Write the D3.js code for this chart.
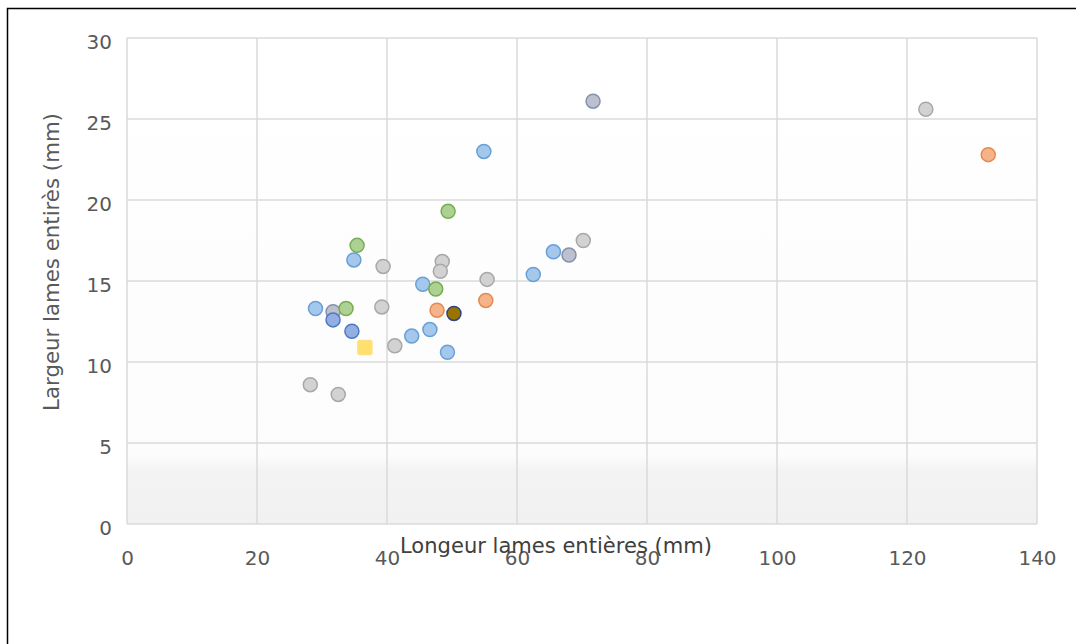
<!DOCTYPE html>
<html><head><meta charset="utf-8">
<script src="https://cdn.jsdelivr.net/npm/d3@7"></script>
<style>body{margin:0;background:#fff;}svg{display:block;font-family:"DejaVu Sans","Noto Sans",sans-serif;}</style>
</head><body><svg id="c" width="1076" height="644"></svg>
<script>
const xTicks = [0,20,40,60,80,100,120,140];
const yTicks = [0,5,10,15,20,25,30];
const groups = ["blue","gray","green","orange","navy","yellow","olive","slate"];
const colors = {
  blue:{fill:"#a3c8ec",stroke:"#6a9fd6"},
  gray:{fill:"#d2d2d2",stroke:"#a8a8a8"},
  green:{fill:"#acd192",stroke:"#77ad52"},
  orange:{fill:"#f5b38a",stroke:"#e58a50"},
  navy:{fill:"#93aee0",stroke:"#4f77c4"},
  yellow:{fill:"#ffdf6e",stroke:"#ffe080"},
  olive:{fill:"#9a7400",stroke:"#33457a"},
  slate:{fill:"#bcc0cf",stroke:"#8592ab"}
};
const lengths = [71.7,122.9,132.5,54.9,49.4,35.4,34.9,39.4,48.5,48.2,70.2,65.6,68.0,62.5,55.4,55.2,45.5,47.5,29.0,31.7,33.7,31.7,34.6,39.2,47.7,50.3,46.6,43.8,41.2,36.6,49.3,28.2,32.5];
const widths  = [26.1,25.6,22.8,23.0,19.3,17.2,16.3,15.9,16.2,15.6,17.5,16.8,16.6,15.4,15.1,13.8,14.8,14.5,13.3,13.1,13.3,12.6,11.9,13.4,13.2,13.0,12.0,11.6,11.0,10.9,10.6,8.6,8.0];
const series  = ["slate","gray","orange","blue","green","green","blue","gray","gray","gray","gray","blue","slate","blue","gray","orange","blue","green","blue","slate","green","navy","navy","gray","orange","olive","blue","blue","gray","yellow","blue","gray","gray"];

const svg = d3.select("#c");
svg.append("rect").attr("x",7.5).attr("y",8.5).attr("width",1100).attr("height",700).attr("fill","#fff").attr("stroke","#000").attr("stroke-width",1.5);

const x = d3.scaleLinear().domain([0,140]).range([127,1037]);
const y = d3.scaleLinear().domain([0,30]).range([524,38]);

const defs = svg.append("defs");
const lg = defs.append("linearGradient").attr("id","bg").attr("x1",0).attr("x2",0).attr("y1",0).attr("y2",1);
lg.append("stop").attr("offset","0").attr("stop-color","#ffffff");
lg.append("stop").attr("offset","0.86").attr("stop-color","#fcfcfc");
lg.append("stop").attr("offset","0.89").attr("stop-color","#f3f3f3");
lg.append("stop").attr("offset","1").attr("stop-color","#f1f1f1");
svg.append("rect").attr("x",x(0)).attr("y",y(30)).attr("width",x(140)-x(0)).attr("height",y(0)-y(30)).attr("fill","url(#bg)");

const g = svg.append("g");
g.selectAll("line.vx").data(xTicks).join("line").attr("class","vx")
  .attr("x1",d=>x(d)).attr("x2",d=>x(d)).attr("y1",y(30)).attr("y2",y(0))
  .attr("stroke","#dadada").attr("stroke-width",1.5);
g.selectAll("line.hy").data(yTicks).join("line").attr("class","hy")
  .attr("x1",x(0)).attr("x2",x(140)).attr("y1",d=>y(d)).attr("y2",d=>y(d))
  .attr("stroke","#dadada").attr("stroke-width",1.5);

const xAxis = svg.append("g").attr("transform",`translate(0,${y(0)})`)
  .call(d3.axisBottom(x).tickValues(xTicks).tickSize(0).tickPadding(0));
xAxis.select(".domain").remove();
xAxis.selectAll("text").attr("fill","#595959").attr("dy",null).attr("y",41).style("font-size","20px").style("font-family","DejaVu Sans");
const yAxis = svg.append("g").attr("transform",`translate(${x(0)},0)`)
  .call(d3.axisLeft(y).tickValues(yTicks).tickSize(0).tickPadding(0));
yAxis.select(".domain").remove();
yAxis.selectAll("text").attr("fill","#595959").attr("dy",null).attr("y",10).attr("x",-15).style("font-size","20px").style("font-family","DejaVu Sans");

const xl = svg.append("text").attr("x",556).attr("y",553).attr("text-anchor","middle")
  .attr("fill","#404040").style("font-size","19px").text("Longeur lames entières (mm)");
const yl = svg.append("text").attr("transform","translate(59,262) rotate(-90)").attr("text-anchor","middle")
  .attr("fill","#595959").style("font-size","19px").text("Largeur lames entirès (mm)");
function fit(t,target){const w=t.node().getComputedTextLength();const fs=parseFloat(t.style("font-size"));t.style("font-size",(fs*target/w).toFixed(2)+"px");}
fit(xl,312); fit(yl,298);

const pts = lengths.map((l,i)=>({x:l,y:widths[i],s:series[i]}));
const pg = svg.append("g");
pts.forEach(p=>{
  const c = colors[p.s];
  if(p.s==="yellow"){
    pg.append("rect").attr("x",x(p.x)-7).attr("y",y(p.y)-7).attr("width",14).attr("height",14).attr("rx",2)
      .attr("fill",c.fill).attr("stroke",c.stroke).attr("stroke-width",1.5);
  } else {
    pg.append("circle").attr("cx",x(p.x)).attr("cy",y(p.y)).attr("r",7)
      .attr("fill",c.fill).attr("stroke",c.stroke).attr("stroke-width",1.5);
  }
});
</script></body></html>
